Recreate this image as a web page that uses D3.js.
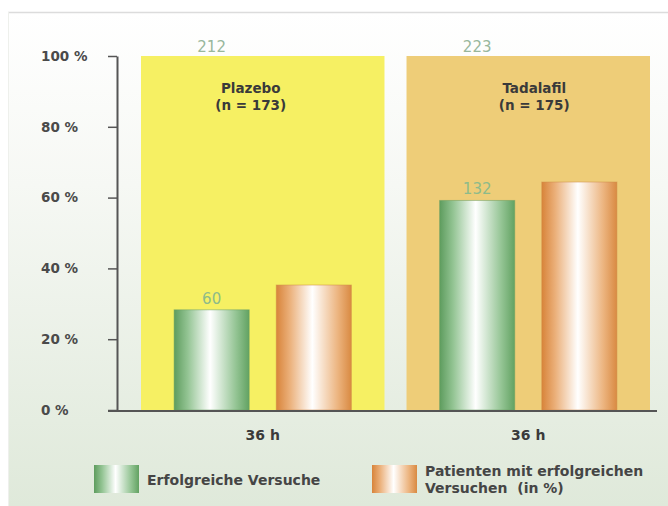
<!DOCTYPE html>
<html>
<head>
<meta charset="utf-8">
<script src="https://cdn.jsdelivr.net/npm/d3@7/dist/d3.min.js"></script>
<style>
  html, body { margin: 0; padding: 0; background: #ffffff; }
  svg { display: block; }
  text { font-family: "DejaVu Sans", Verdana, sans-serif; white-space: pre; }
</style>
</head>
<body>
<svg id="chart" width="668" height="506"></svg>
<script>
// Study arms and their counts
const groups = ["Plazebo", "Tadalafil"];
const groupN = [173, 175];
// Attempts: total and successful per arm
const attemptsTotal = [212, 223];
const attemptsSuccess = [60, 132];
// Patients with successful attempts (in %)
const patientsPct = [35.3, 64.4];
// Axis labels
const xLabels = ["36 h", "36 h"];
const yTicks = [0, 20, 40, 60, 80, 100];
const legendLabels = ["Erfolgreiche Versuche", "Patienten mit erfolgreichen", "Versuchen  (in %)"];

const FONT = "'DejaVu Sans', Verdana, sans-serif";
const svg = d3.select("#chart");
const defs = svg.append("defs");

// background wash
const bg = defs.append("linearGradient").attr("id", "bgGrad")
  .attr("x1", 0).attr("y1", 0).attr("x2", 0).attr("y2", 1);
bg.append("stop").attr("offset", "0%").attr("stop-color", "#ffffff");
bg.append("stop").attr("offset", "35%").attr("stop-color", "#f6f8f4");
bg.append("stop").attr("offset", "100%").attr("stop-color", "#dfe9da");

function barGradient(id, edgeL, midL, midR, edgeR) {
  const g = defs.append("linearGradient").attr("id", id)
    .attr("x1", 0).attr("y1", 0).attr("x2", 1).attr("y2", 0);
  g.append("stop").attr("offset", "0%").attr("stop-color", edgeL);
  g.append("stop").attr("offset", "18%").attr("stop-color", midL);
  g.append("stop").attr("offset", "48%").attr("stop-color", "#ffffff");
  g.append("stop").attr("offset", "82%").attr("stop-color", midR);
  g.append("stop").attr("offset", "100%").attr("stop-color", edgeR);
}
barGradient("greenGrad", "#5e9c5e", "#93c493", "#95c595", "#62a262");
barGradient("orangeGrad", "#d8843a", "#ebb07a", "#ecb47f", "#d98a42");

svg.append("rect").attr("x", 8).attr("y", 12).attr("width", 660).attr("height", 494)
  .attr("fill", "url(#bgGrad)");
svg.append("line").attr("x1", 8).attr("x2", 668).attr("y1", 12.5).attr("y2", 12.5)
  .attr("stroke", "#dcdcdc").attr("stroke-width", 1.5);
svg.append("line").attr("x1", 8.5).attr("x2", 8.5).attr("y1", 12).attr("y2", 506)
  .attr("stroke", "#eef0ec").attr("stroke-width", 1);

// scales
const x = d3.scaleBand().domain(groups).range([141, 650]).paddingInner(0.083).paddingOuter(0);
const series = ["success", "patients"];
const xs = d3.scaleBand().domain(series).range([0, x.bandwidth()])
  .paddingInner(0.265).paddingOuter(0.324);
const y = d3.scaleLinear().domain([0, 100]).range([410, 56]);

const panelColors = ["#f6f063", "#eecd78"];
const titleShift = [-12, 6];

// arm panels
svg.append("g").selectAll("rect").data(groups).join("rect")
  .attr("x", d => x(d)).attr("y", y(100))
  .attr("width", x.bandwidth()).attr("height", y(0) - y(100))
  .attr("fill", (d, i) => panelColors[i]);

// panel titles
const titles = svg.append("g").attr("font-weight", "bold").attr("font-size", 13.5)
  .attr("fill", "#3a3a3a").attr("text-anchor", "middle");
groups.forEach((g, i) => {
  const cx = x(g) + x.bandwidth() / 2 + titleShift[i];
  titles.append("text").attr("x", cx).attr("y", 93).text(g);
  titles.append("text").attr("x", cx).attr("y", 110).text(`(n = ${groupN[i]})`);
});

// bars
const barData = groups.flatMap((g, i) => [
  { g, s: "success", v: attemptsSuccess[i] / attemptsTotal[i] * 100, fill: "url(#greenGrad)", stroke: "#6a9f62" },
  { g, s: "patients", v: patientsPct[i], fill: "url(#orangeGrad)", stroke: "#cf8a48" }
]);
svg.append("g").selectAll("rect").data(barData).join("rect")
  .attr("x", d => x(d.g) + xs(d.s)).attr("y", d => y(d.v))
  .attr("width", xs.bandwidth()).attr("height", d => y(0) - y(d.v))
  .attr("fill", d => d.fill)
  .attr("stroke", d => d.stroke).attr("stroke-opacity", 0.5).attr("stroke-width", 1);

// counts: successful attempts above green bar, total attempts above panel
const counts = svg.append("g").attr("font-size", 15).attr("text-anchor", "middle")
  .attr("font-family", "'Liberation Sans', Arial, sans-serif");
groups.forEach((g, i) => {
  const cx = x(g) + xs("success") + xs.bandwidth() / 2;
  const v = attemptsSuccess[i] / attemptsTotal[i] * 100;
  counts.append("text").attr("x", cx).attr("y", y(v) - 6)
    .attr("fill", "#8dbb8a").text(attemptsSuccess[i]);
  counts.append("text").attr("x", cx).attr("y", y(100) - 4)
    .attr("fill", "#98b79c").text(attemptsTotal[i]);
});

// y axis
const yAxis = svg.append("g").attr("transform", "translate(117,0)")
  .call(d3.axisLeft(y).tickValues(yTicks).tickSize(9).tickSizeOuter(0)
    .tickFormat(d => d + " %"));
yAxis.select(".domain").attr("stroke", "#555").attr("stroke-width", 2);
yAxis.selectAll(".tick line").attr("stroke", "#555").attr("stroke-width", 1.5);
yAxis.selectAll(".tick text").attr("x", -76).attr("text-anchor", "start")
  .attr("font-family", FONT)
  .attr("font-size", 13.5).attr("font-weight", "bold").attr("fill", "#4a4a4a");

// x axis
const xAxis = svg.append("g").attr("transform", "translate(0,411)")
  .call(d3.axisBottom(x).tickSize(0).tickFormat((d, i) => xLabels[i]));
xAxis.select(".domain").remove();
xAxis.selectAll(".tick text").attr("dy", null).attr("y", 29)
  .attr("font-family", FONT)
  .attr("font-size", 14).attr("font-weight", "bold").attr("fill", "#3a3a3a");
svg.append("line").attr("x1", 108).attr("x2", 657).attr("y1", 411).attr("y2", 411)
  .attr("stroke", "#555").attr("stroke-width", 2);

// legend
const legend = svg.append("g").attr("font-size", 14).attr("font-weight", "bold").attr("fill", "#454545");
legend.append("rect").attr("x", 94).attr("y", 465).attr("width", 45).attr("height", 28)
  .attr("fill", "url(#greenGrad)");
legend.append("text").attr("x", 147).attr("y", 485).text(legendLabels[0]);
legend.append("rect").attr("x", 372).attr("y", 465).attr("width", 45).attr("height", 28)
  .attr("fill", "url(#orangeGrad)");
legend.append("text").attr("x", 425).attr("y", 476).text(legendLabels[1]);
legend.append("text").attr("x", 425).attr("y", 493).text(legendLabels[2]);
</script>
</body>
</html>
